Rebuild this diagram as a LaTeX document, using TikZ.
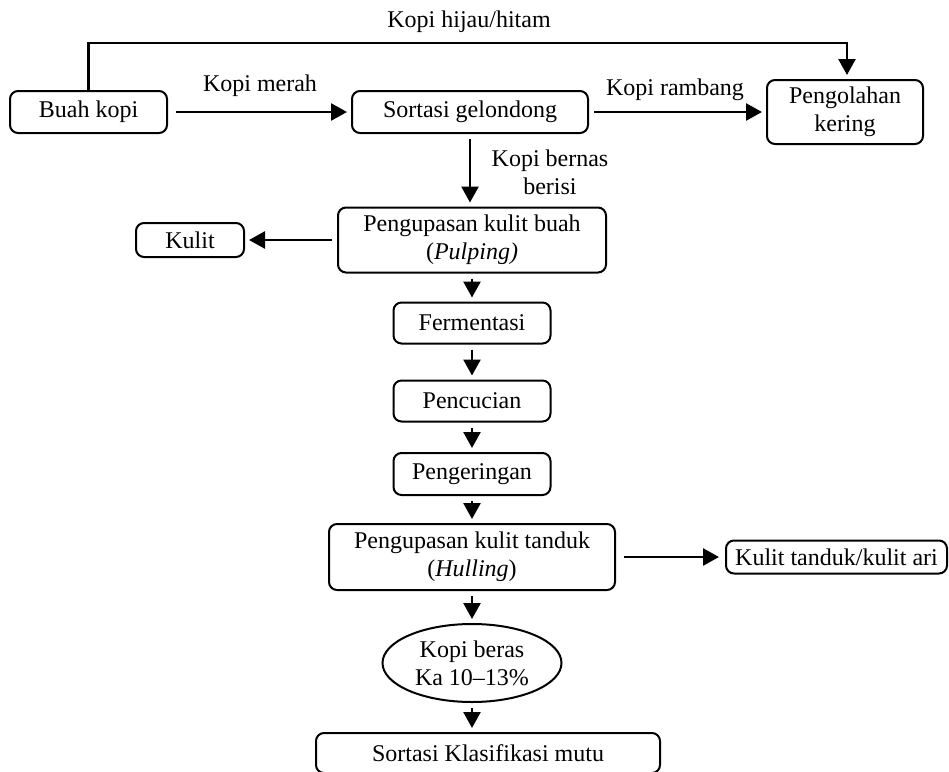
\documentclass[tikz,border=0pt]{standalone}
\usepackage{fontspec}
\setmainfont{Liberation Serif}
\usetikzlibrary{arrows.meta}
\usetikzlibrary{shapes.geometric}
\tikzset{
    tnode/.style = {align=center, inner sep=0pt, text centered, font=\fontsize{12}{14}\selectfont},
    pnode/.style = {tnode, rectangle, rounded corners=4pt, draw=black, line width=1pt},
    enode/.style = {tnode, ellipse, draw=black, line width=1pt},
    flow/.style = {-{Triangle[length=8pt,width=8.5pt]}, line width=1.3pt, shorten <=2.5pt, shorten >=2pt}
}

\begin{document}
\begin{tikzpicture}[x=0.5pt, y=-0.5pt]
    \clip (0,0) rectangle (949,772);
    % top row
    \node [pnode, minimum width=78.5pt, minimum height=21pt] (buah) at (88.5,112) {Buah kopi};
    \node [pnode, minimum width=118pt, minimum height=21pt] (sortasi) at (470,112) {Sortasi gelondong};
    \node [pnode, minimum width=78pt, minimum height=32pt] (olah) at (845,112) {Pengolahan\\kering};
    % main column
    \node [pnode, minimum width=134pt, minimum height=32.5pt] (pulping) at (472,240) {Pengupasan kulit buah\\(\textit{Pulping)}};
    \node [pnode, minimum width=54pt, minimum height=17pt] (kulit) at (190,240) {Kulit};
    \node [pnode, minimum width=78.5pt, minimum height=20.5pt] (ferm) at (472,323) {Fermentasi};
    \node [pnode, minimum width=78.5pt, minimum height=20.5pt] (cuci) at (472,401) {Pencucian};
    \node [pnode, minimum width=78.5pt, minimum height=21pt] (kering) at (472,474) {Pengeringan};
    \node [pnode, minimum width=143pt, minimum height=33pt] (hulling) at (472,557) {Pengupasan kulit tanduk\\(\textit{Hulling})};
    \node [pnode, minimum width=110.5pt, minimum height=16.5pt] (tanduk) at (836.5,557) {Kulit tanduk/kulit ari};
    \node [enode, minimum width=89.5pt, minimum height=39pt] (beras) at (472,663) {Kopi beras\\Ka 10--13\%};
    \node [pnode, minimum width=172pt, minimum height=20pt] (mutu) at (488,753) {Sortasi Klasifikasi mutu};
    % labels
    \node [tnode] (lhijau) at (469,22) {Kopi hijau/hitam};
    \node [tnode] (lmerah) at (260,86) {Kopi merah};
    \node [tnode] (lrambang) at (675,90) {Kopi rambang};
    \node [tnode] (lbernas) at (550,172) {Kopi bernas\\berisi};
    % arrows
    \coordinate (top) at (0,43);
    \draw [flow, shorten <=0pt] (buah.north) |- (top -| 847,0) -- (847,0 |- olah.north);
    \draw [flow, shorten <=4pt] (buah) -- (sortasi);
    \draw [flow] (sortasi) -- (olah);
    \draw [flow] (sortasi.south) -- (sortasi.south |- pulping.north);
    \draw [flow] (pulping) -- (kulit);
    \draw [flow] (pulping.south) -- (ferm.north);
    \draw [flow] (ferm) -- (cuci);
    \draw [flow] (cuci) -- (kering);
    \draw [flow] (kering) -- (hulling);
    \draw [flow, shorten <=4pt, shorten >=3pt] (hulling) -- (tanduk);
    \draw [flow] (hulling) -- (beras);
    \draw [flow] (beras) -- (beras |- mutu.north);
\end{tikzpicture}
\end{document}
